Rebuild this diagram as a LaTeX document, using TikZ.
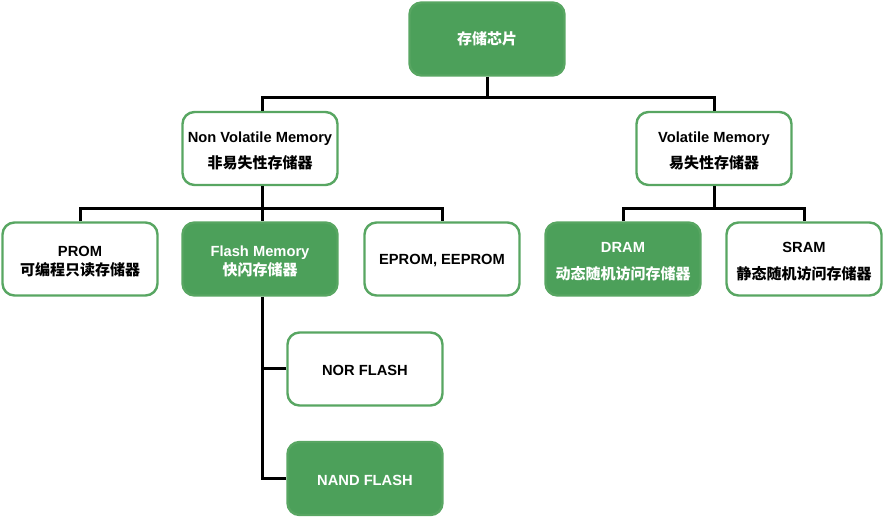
\documentclass[tikz,border=0pt]{standalone}
\usepackage{fontspec}
\setmainfont{Liberation Sans}
\newfontfamily\cjkf{Noto Sans CJK SC}
\newcommand\cjk{\cjkf\bfseries\fontsize{15}{26}\selectfont}
\newcommand\twolines[3][0pt]{\raisebox{-1.8pt}[\height][\depth]{\begin{tabular}{@{}c@{}}#2\\[#1]\cjk #3\end{tabular}}}
\newcommand\oneline[1]{\raisebox{-1.5pt}[\height][\depth]{#1}}
\definecolor{gfill}{RGB}{76,160,90}
\definecolor{gline}{RGB}{88,166,98}
\begin{document}
\begin{tikzpicture}[x=1pt,y=-1pt,
  box/.style={rectangle,rounded corners=12pt,minimum width=155pt,minimum height=73pt,
    draw=gline,line width=2.4pt,font=\fontsize{14.7}{26}\selectfont\bfseries,inner sep=0pt},
  wbox/.style={box,fill=white,text=black},
  gbox/.style={box,fill=gfill,text=white},
  conn/.style={draw=black,line width=3pt}]
\useasboundingbox (0,0) rectangle (884,518);
\node[gbox] (root) at (487,39) {\cjk 存储芯片};
\node[wbox] (nv) at (260,148.5) {\twolines{Non Volatile Memory}{非易失性存储器}};
\node[wbox] (vol) at (714,148.5) {\twolines{Volatile Memory}{易失性存储器}};
\node[wbox] (prom) at (80,259) {\twolines[-7pt]{PROM}{可编程只读存储器}};
\node[gbox] (flash) at (260,259) {\twolines[-7pt]{Flash Memory}{快闪存储器}};
\node[wbox] (eprom) at (442,259) {\oneline{EPROM, EEPROM}};
\node[gbox] (dram) at (623,259) {\twolines[1.5pt]{DRAM}{动态随机访问存储器}};
\node[wbox] (sram) at (804,259) {\twolines[1.5pt]{SRAM}{静态随机访问存储器}};
\node[wbox] (nor) at (365,369) {\oneline{NOR FLASH}};
\node[gbox] (nand) at (365,478.5) {\oneline{NAND FLASH}};
\coordinate (j1) at (487,98);
\coordinate (j2) at (262,209);
\coordinate (j3) at (714,209);
\draw[conn] (root.south) -- (j1);
\draw[conn] (nv.north -| j2) |- (j1) -| (vol.north);
\draw[conn] (nv.south -| j2) -- (j2);
\draw[conn] (prom.north) |- (j2) -| (eprom.north);
\draw[conn] (j2) -- (flash.north -| j2);
\draw[conn] (vol.south) -- (j3);
\draw[conn] (dram.north) |- (j3) -| (sram.north);
\draw[conn] (flash.south -| j2) |- (nand.west);
\draw[conn] (nor.west) -- (nor.west -| j2);
\end{tikzpicture}
\end{document}
